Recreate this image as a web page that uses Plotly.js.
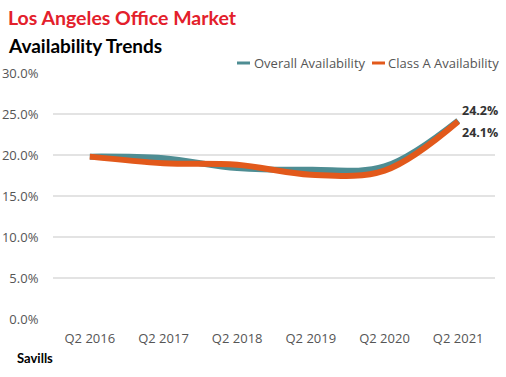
<!DOCTYPE html>
<html><head><meta charset="utf-8">
<script src="https://cdn.plot.ly/plotly-3.0.1.min.js"></script>
<style>html,body{margin:0;padding:0;background:#fff}#c{width:506px;height:377px}</style>
</head><body><div id="c"></div>
<script>
const categories = ["Q2 2016","Q2 2017","Q2 2018","Q2 2019","Q2 2020","Q2 2021"];
const overall = [19.8, 19.6, 18.4, 18.2, 18.6, 24.2];
const classA  = [19.8, 19.0, 18.8, 17.6, 18.1, 24.1];
const seriesNames = ["Overall Availability", "Class A Availability"];
const yTicks = [0,5,10,15,20,25,30];
const yTickText = yTicks.map(v => v.toFixed(1) + "%");

const L=53, R=495, T=73, B=319;
const px = x => (x-L)/(R-L);
const py = y => (B-y)/(B-T);
const colors = ["#4e8d93", "#e2591b"];

const traces = [
  {x: categories, y: overall, name: seriesNames[0], type: "scatter", mode: "lines",
   line: {color: colors[0], width: 6, shape: "spline", smoothing: 1}},
  {x: categories, y: classA, name: seriesNames[1], type: "scatter", mode: "lines",
   line: {color: colors[1], width: 6, shape: "spline", smoothing: 1}}
];
const fam = "'Open Sans', sans-serif";
const tickFont = {family: fam, size: 13, color: "#555"};

// manual legend (short thin swatches like the original)
const legendItems = [{x0: 237, tx: 252}, {x0: 372, tx: 386}];
const legendShapes = legendItems.map((it, i) => ({
  type: "line", xref: "paper", yref: "paper", x0: px(it.x0), x1: px(it.x0 + 13),
  y0: py(63), y1: py(63), line: {color: colors[i], width: 3}
}));
const legendTexts = legendItems.map((it, i) => ({
  text: seriesNames[i], xref: "paper", yref: "paper", x: px(it.tx), y: py(63),
  xanchor: "left", yanchor: "middle", showarrow: false,
  font: {family: fam, size: 13, color: "#555"}
}));

const layout = {
  width: 506, height: 377,
  margin: {l: L, r: 506-R, t: T, b: 377-B},
  paper_bgcolor: "#fff", plot_bgcolor: "#fff",
  showlegend: false,
  xaxis: {type: "category", range: [-0.5, 5.5], showgrid: false, zeroline: false, showline: false,
    ticks: "outside", ticklen: 7, tickcolor: "rgba(0,0,0,0)", tickfont: tickFont, fixedrange: true},
  yaxis: {range: [0, 30], tickvals: yTicks, ticktext: yTickText, showgrid: true,
    gridcolor: "#e3e3e3", gridwidth: 2, zeroline: false, showline: false,
    ticks: "outside", ticklen: 11, tickcolor: "rgba(0,0,0,0)", tickfont: tickFont, fixedrange: true},
  shapes: legendShapes,
  annotations: [
    {text: "<b>Los Angeles Office Market</b>", xref: "paper", yref: "paper", x: px(6), y: py(17),
     xanchor: "left", yanchor: "middle", showarrow: false,
     font: {family: "Lato, sans-serif", size: 19.5, color: "#e3202b"}},
    {text: "<b>Availability Trends</b>", xref: "paper", yref: "paper", x: px(6), y: py(45),
     xanchor: "left", yanchor: "middle", showarrow: false,
     font: {family: "Lato, sans-serif", size: 19, color: "#000"}},
    {text: "<b>Savills</b>", xref: "paper", yref: "paper", x: px(15), y: py(358),
     xanchor: "left", yanchor: "middle", showarrow: false,
     font: {family: "Lato, sans-serif", size: 13, color: "#000"}},
    {text: "<b>" + overall[5].toFixed(1) + "%</b>", x: categories[5], y: overall[5], xref: "x", yref: "y",
     xanchor: "left", yanchor: "middle", xshift: 2, yshift: 10, showarrow: false,
     font: {family: fam, size: 12.5, color: "#333"}},
    {text: "<b>" + classA[5].toFixed(1) + "%</b>", x: categories[5], y: classA[5], xref: "x", yref: "y",
     xanchor: "left", yanchor: "middle", xshift: 2, yshift: -11, showarrow: false,
     font: {family: fam, size: 12.5, color: "#333"}}
  ].concat(legendTexts)
};
Plotly.newPlot("c", traces, layout, {displayModeBar: false, staticPlot: true});
</script></body></html>
